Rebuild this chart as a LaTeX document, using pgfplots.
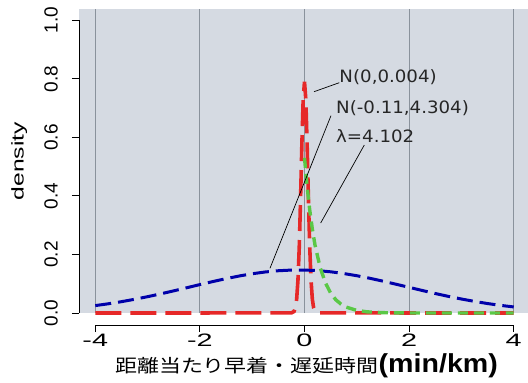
\documentclass[border=0pt]{standalone}
\usepackage{pgfplots}
\pgfplotsset{compat=1.18}
\usepackage{graphicx}
\usepackage{fontspec}
\setmainfont{Liberation Sans}
\newfontfamily\dejavu{DejaVu Sans}
\newfontfamily\cjk{Noto Sans CJK JP}
\definecolor{bgcol}{HTML}{D5DAE2}
\definecolor{gridcol}{HTML}{8A929C}
\definecolor{cblue}{HTML}{0000AA}
\definecolor{cred}{HTML}{E62828}
\definecolor{cgreen}{HTML}{5AC846}
\begin{document}
\begin{tikzpicture}
\begin{axis}[
  scale only axis, width=449pt, height=315.7pt,
  xmin=-4.311, xmax=4.273, ymin=-0.041, ymax=1.0377,
  axis x line*=bottom, axis y line*=left,
  axis line style={draw=none},
  clip=false,
  xtick={-4,-2,0,2,4}, ytick={0,0.2,0.4,0.6,0.8,1.0},
  tick align=outside, major tick length=7pt,
  tick style={black, line width=0.9pt},
  /pgf/number format/assume math mode=true,
  yticklabel style={rotate=90, anchor=south, inner sep=2pt,
    font=\fontsize{19}{19}\selectfont,
    /pgf/number format/.cd, fixed, fixed zerofill, precision=1},
  yticklabel shift=12pt,
  xticklabel style={font=\fontsize{18}{18}\selectfont, xscale=1.6, inner sep=2pt},
  ylabel={density},
  ylabel style={at={(axis description cs:-0.133,0.519)}, anchor=center,
    font=\fontsize{17}{17}\selectfont, xscale=1.45},
  xlabel={\scalebox{1.22}[1]{\cjk\fontsize{18}{18}\selectfont 距離当たり早着・遅延時間}\scalebox{1.1}[1]{\fontsize{26}{26}\selectfont\bfseries (min/km)}},
  xlabel style={at={(axis description cs:0.5067,-0.152)}, anchor=base, inner sep=0pt},
]
\fill[bgcol] (axis cs:-4.311,0) rectangle (axis cs:4.273,1.0377);
\draw[gridcol, line width=0.9pt] (axis cs:-4,0) -- (axis cs:-4,1.0377);
\draw[gridcol, line width=0.9pt] (axis cs:-2,0) -- (axis cs:-2,1.0377);
\draw[gridcol, line width=0.9pt] (axis cs:0,0) -- (axis cs:0,1.0377);
\draw[gridcol, line width=0.9pt] (axis cs:2,0) -- (axis cs:2,1.0377);
\draw[gridcol, line width=0.9pt] (axis cs:4,0) -- (axis cs:4,1.0377);
\draw[black, line width=0.9pt] (axis cs:-4,-0.041) -- (axis cs:4,-0.041);
\draw[black, line width=0.9pt] (axis cs:-4.311,0) -- (axis cs:-4.311,1);

% N(0,0.004)
\addplot[cred, line width=3.6pt, dash pattern=on 26pt off 9pt] coordinates {
(-4,0) (-0.25,0.0003) (-0.2,0.0053) (-0.175,0.0172) (-0.15,0.047) (-0.125,0.112)
(-0.1,0.226) (-0.075,0.391) (-0.05,0.578) (-0.025,0.731) (0,0.79) (0.025,0.731)
(0.05,0.578) (0.075,0.391) (0.1,0.226) (0.125,0.112) (0.15,0.047) (0.175,0.0172)
(0.2,0.0053) (0.25,0.0003) (4,0)};
% N(-0.11,4.304)
\addplot[cblue, line width=3pt, dash pattern=on 16pt off 7pt] coordinates {
(-4,0.0253) (-3.75,0.0315) (-3.5,0.0387) (-3.25,0.0468) (-3,0.0557) (-2.75,0.0654)
(-2.5,0.0757) (-2.25,0.0863) (-2,0.0971) (-1.75,0.1075) (-1.5,0.1174) (-1.25,0.1264)
(-1,0.1341) (-0.75,0.1402) (-0.5,0.1444) (-0.25,0.1467) (0,0.1468) (0.25,0.1448)
(0.5,0.1408) (0.75,0.1349) (1,0.1274) (1.25,0.1186) (1.5,0.1088) (1.75,0.0983)
(2,0.0877) (2.25,0.0770) (2.5,0.0666) (2.75,0.0568) (3,0.0478) (3.25,0.0396)
(3.5,0.0323) (3.75,0.0260) (4,0.0207)};
% exponential
\addplot[cgreen, line width=3.4pt, dash pattern=on 10pt off 6pt] coordinates {
(0,0.53) (0.05,0.432) (0.1,0.352) (0.15,0.287) (0.2,0.233) (0.3,0.155) (0.4,0.103)
(0.5,0.068) (0.6,0.045) (0.7,0.030) (0.8,0.020) (1.0,0.0088) (1.2,0.0039)
(1.5,0.0011) (2,0.0001) (3,0) (4,0)};

\draw[black, line width=0.7pt] (axis cs:0.1815,0.7561) -- (axis cs:0.665,0.7869);
\draw[black, line width=0.7pt] (axis cs:0.5065,0.6742) -- (axis cs:-0.660,0.1527);
\draw[black, line width=0.7pt] (axis cs:1.143,0.5739) -- (axis cs:0.3095,0.3075);
\node[anchor=west, inner sep=0pt, xscale=1.07, font=\dejavu\fontsize{17}{17}\selectfont, text=black!85] at (axis cs:0.665,0.8047) {N(0,0.004)};
\node[anchor=west, inner sep=0pt, xscale=1.07, font=\dejavu\fontsize{17}{17}\selectfont, text=black!85] at (axis cs:0.602,0.7004) {N(-0.11,4.304)};
\node[anchor=west, inner sep=0pt, xscale=1.07, font=\dejavu\fontsize{17}{17}\selectfont, text=black!85] at (axis cs:0.602,0.6048) {λ=4.102};
\end{axis}
\pgfresetboundingbox
\path[use as bounding box] (-79pt,-58pt) rectangle (449pt,325pt);
\end{tikzpicture}
\end{document}
